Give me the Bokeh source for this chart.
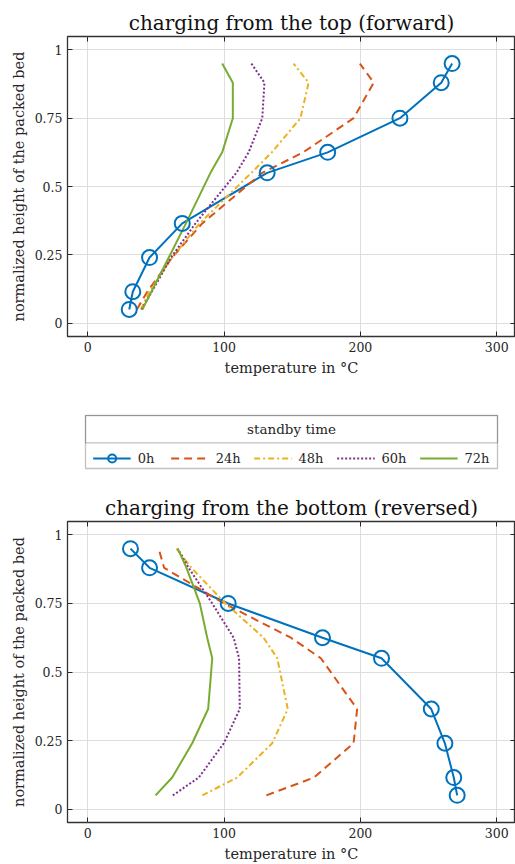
from bokeh.plotting import figure
from bokeh.models import (LinearAxis, FixedTicker, Range1d, Legend, LegendItem,
                          Label, BoxAnnotation, CustomJSTickFormatter)
from bokeh.layouts import column
from bokeh.embed import file_html
from bokeh.resources import INLINE

# ---------------- data ----------------
heights = [0.05, 0.115, 0.24, 0.365, 0.55, 0.625, 0.75, 0.88, 0.95]
series_labels = ["0h", "24h", "48h", "60h", "72h"]

fwd_0h = [30.4, 33.0, 45.3, 69.3, 131.6, 176.0, 229.0, 259.3, 267.3]
fwd_24h = [36.0, 43.6, 61.9, 84.0, 128.0, 158.0, 195.0, 209.8, 199.6]
fwd_48h = [39.0, 45.0, 62.0, 82.0, 120.0, 135.0, 156.0, 162.0, 151.0]
fwd_60h = [39.5, 47.0, 61.0, 79.0, 109.0, 118.0, 128.0, 129.6, 120.0]
fwd_72h = [40.0, 46.6, 59.4, 72.0, 90.0, 98.6, 106.4, 106.4, 98.6]

rev_0h = [271.0, 268.5, 262.0, 252.0, 215.5, 172.2, 103.0, 45.3, 31.3]
rev_24h = [131.0, 166.0, 195.0, 197.6, 171.0, 149.0, 100.0, 56.0, 52.0]
rev_48h = [84.0, 109.6, 135.3, 146.7, 139.0, 129.0, 101.0, 76.0, 65.0]
rev_60h = [62.4, 81.4, 99.8, 111.5, 111.0, 107.0, 91.3, 74.0, 66.0]
rev_72h = [49.7, 61.9, 76.6, 88.3, 91.3, 87.6, 82.2, 72.4, 66.0]

x_ticks = [0, 100, 200, 300]
y_ticks = [0, 0.25, 0.5, 0.75, 1]

# ---------------- styles ----------------
FONT = "DejaVu Serif"
TXT = "#262626"
colors = ["#0072BD", "#D95319", "#EDB120", "#7E2F8E", "#77AC30"]
dashes = ["solid", "8 5", "6 3 2 3", "2 2", "solid"]
LW = 2


def style_axis(ax, labels=True):
    ax.major_tick_in = 5
    ax.major_tick_out = 0
    ax.minor_tick_line_color = None
    ax.axis_line_color = None
    ax.major_tick_line_color = TXT
    ax.major_tick_line_width = 1
    if labels:
        ax.major_label_text_font = FONT
        ax.major_label_text_font_size = "12.5px"
        ax.major_label_text_color = TXT
        ax.axis_label_text_font = FONT
        ax.axis_label_text_font_size = "14.5px"
        ax.axis_label_text_font_style = "normal"
        ax.axis_label_text_color = TXT
        ax.major_label_standoff = 5
        ax.axis_label_standoff = 5
    else:
        ax.major_label_text_font_size = "1px"
        ax.major_label_text_color = None
        ax.major_label_text_alpha = 0
        ax.major_label_standoff = 0


def make_panel(title, series, height, top, bottom):
    p = figure(width=515, height=height, title=title,
               x_range=Range1d(-14.9, 313.8), y_range=Range1d(-0.049, 1.049),
               toolbar_location=None, output_backend="svg",
               min_border_left=67, min_border_right=0,
               min_border_top=top, min_border_bottom=bottom)
    p.title.text_font = FONT
    p.title.text_font_size = "20px"
    p.title.text_font_style = "normal"
    p.title.text_color = "#111111"
    p.title.align = "center"
    p.title.standoff = 3
    p.outline_line_color = "#333333"
    p.outline_line_width = 1.3
    p.background_fill_color = "white"
    p.border_fill_color = "white"

    p.xaxis.ticker = FixedTicker(ticks=x_ticks)
    p.yaxis.ticker = FixedTicker(ticks=y_ticks)
    p.yaxis.formatter = CustomJSTickFormatter(code="return String(tick);")
    p.xaxis.axis_label = "temperature in °C"
    p.yaxis.axis_label = "normalized height of the packed bed"
    style_axis(p.xaxis[0])
    style_axis(p.yaxis[0])

    ax_top = LinearAxis(ticker=FixedTicker(ticks=x_ticks))
    style_axis(ax_top, labels=False)
    p.add_layout(ax_top, "above")
    ax_right = LinearAxis(ticker=FixedTicker(ticks=y_ticks))
    style_axis(ax_right, labels=False)
    p.add_layout(ax_right, "right")

    p.grid.grid_line_color = "#dedede"
    p.grid.grid_line_width = 1

    for i, vals in enumerate(series):
        p.line(vals, heights, line_color=colors[i], line_width=LW,
               line_dash=dashes[i])
    p.scatter(series[0], heights, marker="circle", size=15,
              fill_color=None, line_color=colors[0], line_width=LW)
    return p


p1 = make_panel("charging from the top (forward)",
                [fwd_0h, fwd_24h, fwd_48h, fwd_60h, fwd_72h], 390, 36, 54)
p3 = make_panel("charging from the bottom (reversed)",
                [rev_0h, rev_24h, rev_48h, rev_60h, rev_72h], 384, 41, 42)

# ---------------- legend panel (pixel-like coordinates) ----------------
p2 = figure(width=515, height=90, x_range=Range1d(67, 515), y_range=Range1d(0, 90),
            x_axis_type=None, y_axis_type=None,
            toolbar_location=None, output_backend="svg",
            min_border_left=67, min_border_right=0,
            min_border_top=0, min_border_bottom=0)
p2.grid.visible = False
p2.outline_line_color = None

items = []
for i, lab in enumerate(series_labels):
    r = p2.line(x=[-100, -99], y=[-100, -100], line_color=colors[i],
                line_width=LW, line_dash=dashes[i])
    rs = [r]
    if i == 0:
        rs.append(p2.scatter(x=[-100], y=[-100], marker="circle", size=15,
                             fill_color=None, line_color=colors[0],
                             line_width=LW))
    items.append(LegendItem(label=lab, renderers=rs))

# outer legend box and header box
p2.add_layout(BoxAnnotation(left=85, right=497, bottom=12, top=65,
                            fill_color=None, line_color="#333333",
                            line_width=1.3))
p2.add_layout(BoxAnnotation(left=85, right=497, bottom=37.7, top=65,
                            fill_color=None, line_color="#333333",
                            line_width=1.2))

leg = Legend(items=items, orientation="horizontal", location="bottom_center",
             border_line_color=None, background_fill_alpha=0,
             label_text_font=FONT, label_text_font_size="13px",
             label_text_color=TXT,
             glyph_width=38, glyph_height=20, label_height=20,
             label_standoff=7, spacing=13, padding=3, margin=12)
p2.add_layout(leg)
p2.add_layout(Label(x=291, y=52, text="standby time", text_align="center",
                    text_baseline="middle", text_font=FONT,
                    text_font_size="13.5px", text_color=TXT))

layout = column(p1, p2, p3, spacing=0)
open("out.html", "w").write(file_html(layout, INLINE))
